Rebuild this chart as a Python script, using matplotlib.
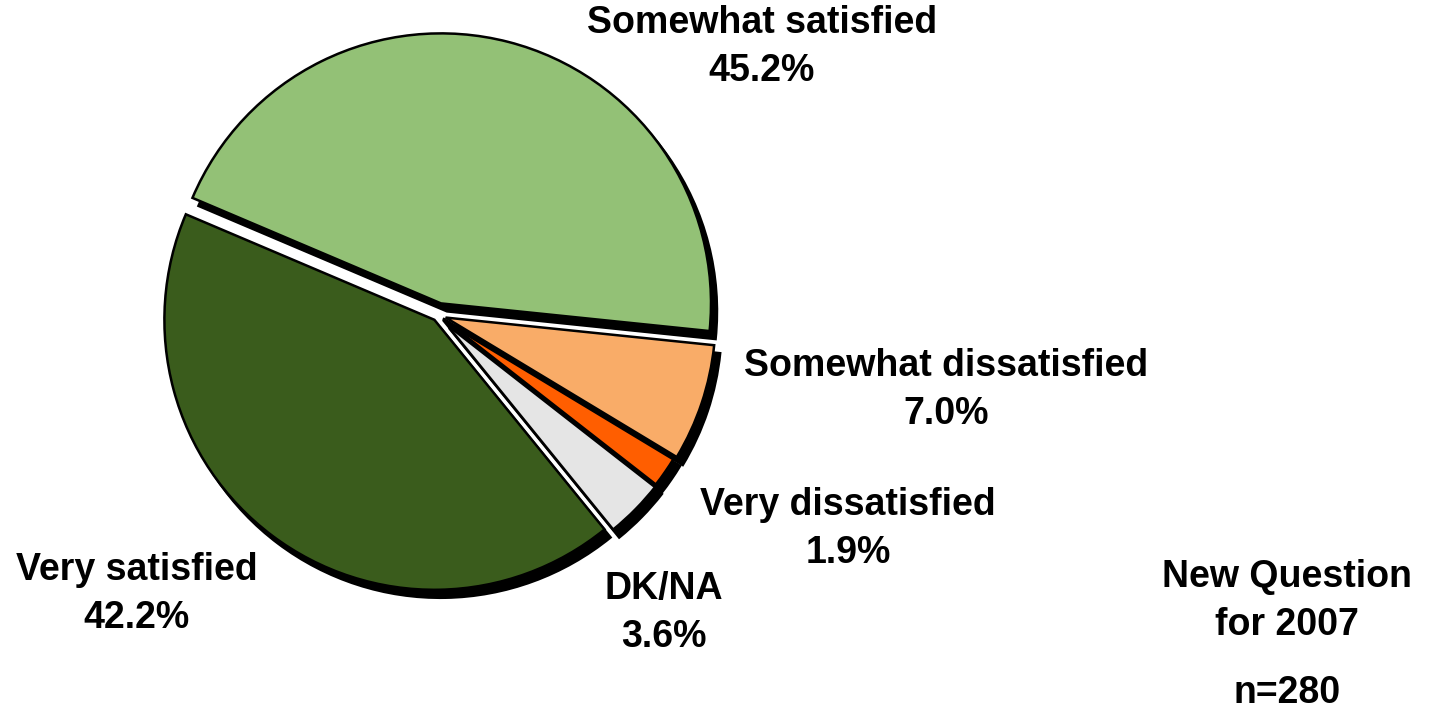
import matplotlib
matplotlib.use("Agg")
import matplotlib.pyplot as plt
from matplotlib.patches import Shadow

# ---- data ----
categories = ["Somewhat satisfied", "Somewhat dissatisfied", "Very dissatisfied",
              "DK/NA", "Very satisfied"]
values = [45.2, 7.0, 1.9, 3.6, 42.2]
colors = ["#93C176", "#F9AC68", "#FF5E00", "#E5E5E5", "#3A5C1C"]
note_lines = ["New Question\nfor 2007", "n=280"]

# ---- layout (pixel space, y up) ----
W, H = 1439, 710
R = 270
center = (438, H - 315)
explode_px = [12, 8, 6, 7, 6]
label_pos = [(762, H - 47), (946, H - 390), (848, H - 529), (664, H - 613), (137, H - 594)]

plt.rcParams["font.family"] = ["Liberation Sans", "DejaVu Sans"]

fig = plt.figure(figsize=(W / 100, H / 100), dpi=100)
ax = fig.add_axes([0, 0, 1, 1])

wedges, _ = ax.pie(values, colors=colors, radius=R, center=center,
                   explode=explode_px, startangle=157,
                   counterclock=False,
                   wedgeprops=dict(edgecolor="black", linewidth=1.8))

n = len(wedges)
for i, w in enumerate(wedges):
    z = 10 + 2 * (n - i)
    w.set_zorder(z)
    sh = Shadow(w, 6 * 72 / 100, -8 * 72 / 100, shade=1.0,
                facecolor="black", edgecolor="black", alpha=1.0,
                linewidth=1.8, zorder=z - 1)
    ax.add_patch(sh)

for cat, val, (x, y) in zip(categories, values, label_pos):
    ax.text(x, y, f"{cat}\n{val:.1f}%", ha="center", va="center",
            fontsize=27, fontweight="bold", linespacing=1.45, zorder=50)

ax.text(1287, H - 601, note_lines[0], ha="center", va="center",
        fontsize=27, fontweight="bold", linespacing=1.45)
ax.text(1287, H - 693, note_lines[1], ha="center", va="center",
        fontsize=27, fontweight="bold")

ax.set_xlim(0, W)
ax.set_ylim(0, H)
ax.set_aspect("equal")
ax.axis("off")

fig.savefig("out.png", dpi=100)
